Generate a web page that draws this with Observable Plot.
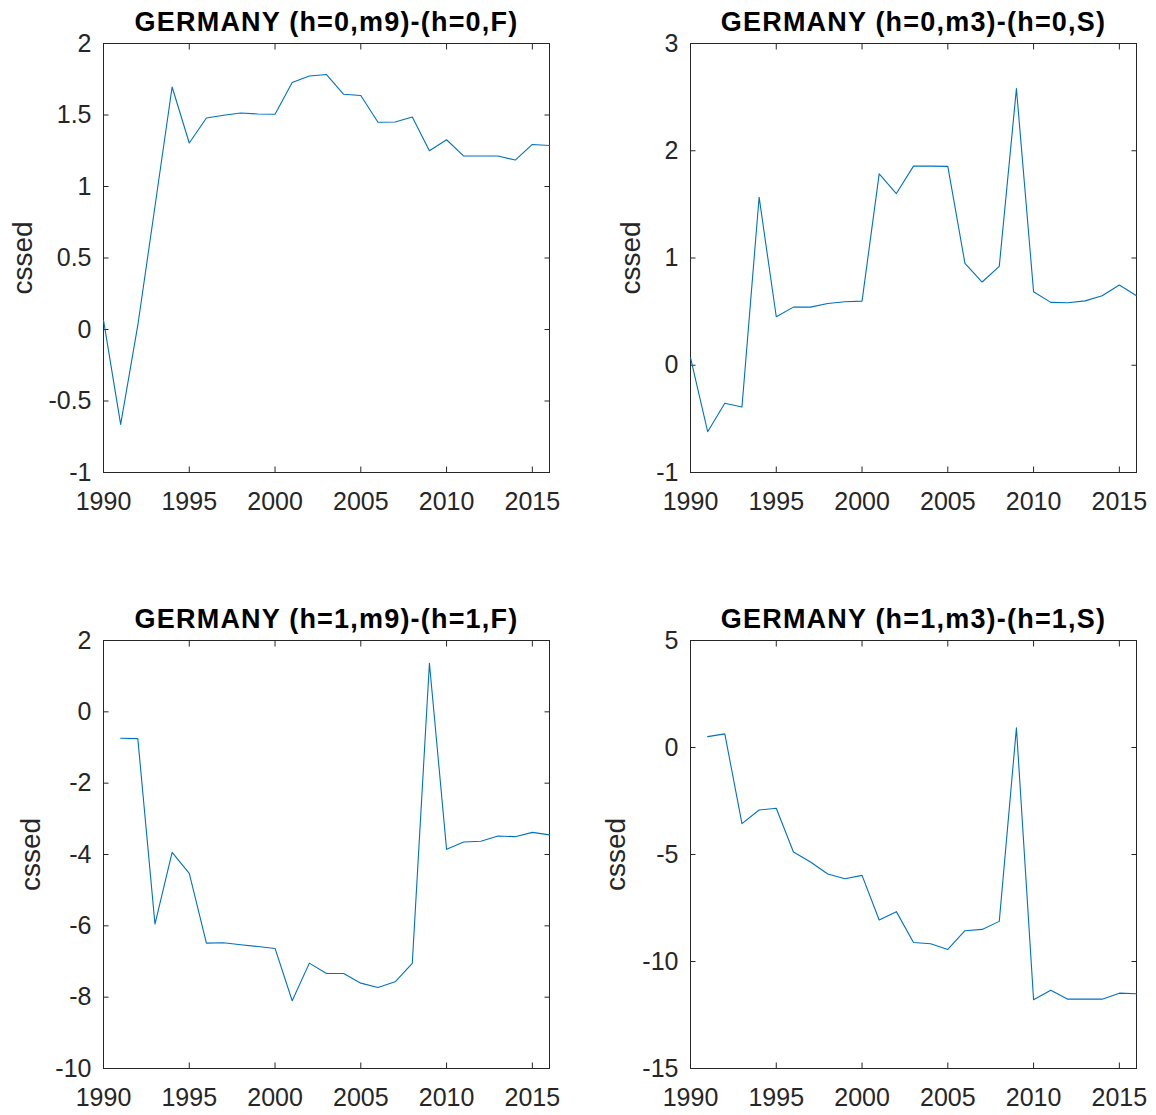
<!DOCTYPE html>
<html>
<head>
<meta charset="utf-8">
<script src="https://cdn.jsdelivr.net/npm/d3@7"></script>
<script src="https://cdn.jsdelivr.net/npm/@observablehq/plot@0.6"></script>
<style>
  html, body { margin: 0; padding: 0; background: #fff; overflow: hidden; }
  #root { position: relative; width: 1156px; height: 1115px; background: #fff; }
  .panel { position: absolute; }
</style>
</head>
<body>
<div id="root"></div>
<script>
// ---- data ----
const yearsA = [1990,1991,1992,1993,1994,1995,1996,1997,1998,1999,2000,2001,2002,2003,2004,2005,2006,2007,2008,2009,2010,2011,2012,2013,2014,2015,2016];
const yearsB = [1991,1992,1993,1994,1995,1996,1997,1998,1999,2000,2001,2002,2003,2004,2005,2006,2007,2008,2009,2010,2011,2012,2013,2014,2015,2016];

const h0m9F = [0.065,-0.664,0.03,0.86,1.696,1.304,1.479,1.498,1.514,1.507,1.505,1.727,1.773,1.783,1.645,1.636,1.449,1.451,1.486,1.25,1.327,1.213,1.213,1.213,1.185,1.294,1.287];
const h0m3S = [0.07,-0.62,-0.355,-0.39,1.567,0.452,0.542,0.542,0.576,0.592,0.598,1.785,1.601,1.857,1.857,1.854,0.95,0.776,0.922,2.579,0.685,0.586,0.583,0.60,0.648,0.748,0.648];
const h1m9F = [-0.741,-0.75,-5.95,-3.94,-4.53,-6.485,-6.475,-6.53,-6.58,-6.634,-8.10,-7.046,-7.336,-7.336,-7.607,-7.729,-7.57,-7.055,1.364,-3.856,-3.65,-3.63,-3.48,-3.50,-3.38,-3.45];
const h1m3S = [0.51,0.635,-3.558,-2.919,-2.841,-4.883,-5.351,-5.912,-6.13,-5.974,-8.06,-7.67,-9.11,-9.17,-9.435,-8.56,-8.50,-8.125,0.916,-11.79,-11.34,-11.76,-11.76,-11.76,-11.48,-11.51];

const xTicks = [1990,1995,2000,2005,2010,2015];
const yTicks1 = [-1,-0.5,0,0.5,1,1.5,2];
const yTicks2 = [-1,0,1,2,3];
const yTicks3 = [-10,-8,-6,-4,-2,0,2];
const yTicks4 = [-15,-10,-5,0,5];

const titles = ["GERMANY (h=0,m9)-(h=0,F)","GERMANY (h=0,m3)-(h=0,S)","GERMANY (h=1,m9)-(h=1,F)","GERMANY (h=1,m3)-(h=1,S)"];
const yLabel = "cssed";

// ---- drawing ----
const fmt = d => String(d);
const blank = () => "";
const FONT = "'Liberation Sans', Arial, Helvetica, sans-serif";

function panel(cfg) {
  const data = cfg.years.map((yr, i) => ({year: yr, value: cfg.values[i]}));
  const svg = Plot.plot({
    width: cfg.width, height: cfg.height,
    marginTop: cfg.mt, marginBottom: cfg.mb, marginLeft: cfg.ml, marginRight: cfg.mr,
    style: {fontFamily: FONT, fontSize: "25px", color: "#262626", background: "white", overflow: "visible"},
    x: {domain: [1990, 2016], nice: false},
    y: {domain: cfg.yDomain, nice: false},
    marks: [
      Plot.axisX(xTicks, {anchor: "bottom", tickSize: 0, tickPadding: 20, tickFormat: fmt, label: null, fontSize: 25}),
      Plot.axisX(xTicks, {anchor: "bottom", tickSize: -5.5, tickFormat: blank, label: null}),
      Plot.axisX(xTicks, {anchor: "top", tickSize: -5.5, tickFormat: blank, label: null}),
      Plot.axisY(cfg.yTicks, {anchor: "left", tickSize: 0, tickPadding: 12, tickFormat: fmt, label: null, fontSize: 25}),
      Plot.axisY(cfg.yTicks, {anchor: "left", tickSize: -5.5, tickFormat: blank, label: null}),
      Plot.axisY(cfg.yTicks, {anchor: "right", tickSize: -5.5, tickFormat: blank, label: null}),
      Plot.frame({stroke: "#262626", strokeWidth: 1}),
      Plot.lineY(data, {x: "year", y: "value", stroke: "#0072BD", strokeWidth: 1.1}),
      Plot.text([cfg.title], {text: d => d, frameAnchor: "top", textAnchor: "middle", lineAnchor: "middle",
        dy: -21, fontSize: 27, fontWeight: "bold", fill: "#000"}),
      Plot.text([yLabel], {text: d => d, frameAnchor: "left", textAnchor: "middle", lineAnchor: "middle",
        dx: cfg.labelDx, rotate: -90, fontSize: 28, fill: "#262626"})
    ]
  });
  d3.select(svg).selectAll("text").filter(function() { return this.textContent === cfg.title; })
    .attr("letter-spacing", "1.2");
  const div = document.createElement("div");
  div.className = "panel";
  div.style.left = cfg.left + "px";
  div.style.top = cfg.top + "px";
  div.appendChild(svg);
  document.getElementById("root").appendChild(div);
}

panel({years: yearsA, values: h0m9F, yDomain: [-1, 2], yTicks: yTicks1, title: titles[0], labelDx: -80,
  left: 0, top: 0, width: 578, height: 557, mt: 43, mb: 85, ml: 103, mr: 29});
panel({years: yearsA, values: h0m3S, yDomain: [-1, 3], yTicks: yTicks2, title: titles[1], labelDx: -59,
  left: 578, top: 0, width: 578, height: 557, mt: 43, mb: 85, ml: 112, mr: 20});
panel({years: yearsB, values: h1m9F, yDomain: [-10, 2], yTicks: yTicks3, title: titles[2], labelDx: -72,
  left: 0, top: 557, width: 578, height: 558, mt: 83, mb: 47, ml: 103, mr: 29});
panel({years: yearsB, values: h1m3S, yDomain: [-15, 5], yTicks: yTicks4, title: titles[3], labelDx: -74,
  left: 578, top: 557, width: 578, height: 558, mt: 83, mb: 47, ml: 112, mr: 20});
</script>
</body>
</html>
